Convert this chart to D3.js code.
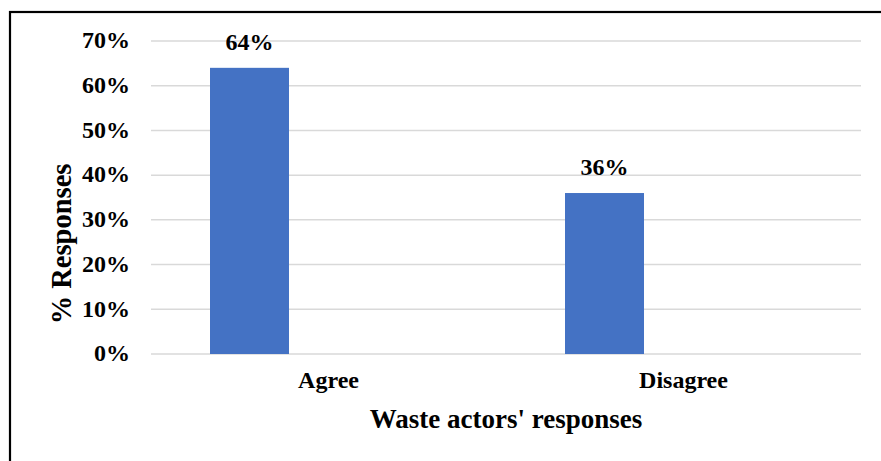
<!DOCTYPE html>
<html>
<head>
<meta charset="utf-8">
<script src="https://cdn.jsdelivr.net/npm/d3@7"></script>
<style>
  body { margin: 0; background: #fff; }
  text { font-family: "Liberation Serif", "Times New Roman", serif; font-weight: bold; fill: #000; }
</style>
</head>
<body>
<svg id="chart" width="881" height="461"></svg>
<script>
// data
const categories = ["Agree", "Disagree"];
const values = [0.64, 0.36];
const yTicks = [0, 0.1, 0.2, 0.3, 0.4, 0.5, 0.6, 0.7];
const xTitle = "Waste actors' responses";
const yTitle = "% Responses";

const svg = d3.select("#chart");
const plot = { left: 151, right: 861, top: 41, bottom: 354 };
const labelSize = 24;

// frame (only top and left edges are visible in the crop)
svg.append("rect")
    .attr("x", 10).attr("y", 12)
    .attr("width", 900).attr("height", 500)
    .attr("fill", "none")
    .attr("stroke", "#000")
    .attr("stroke-width", 2.2);

const y = d3.scaleLinear().domain([0, 0.7]).range([plot.bottom, plot.top]);

// Excel style clustered layout: each category holds a group of three slots,
// only the first slot has a bar
const x = d3.scaleBand()
    .domain(categories)
    .range([plot.left, plot.right])
    .paddingInner(0.3324)
    .paddingOuter(0.1662);
const barW = x.bandwidth() / 3;

// gridlines
svg.append("g").selectAll("line").data(yTicks)
    .join("line")
    .attr("x1", plot.left).attr("x2", plot.right)
    .attr("y1", d => y(d)).attr("y2", d => y(d))
    .attr("stroke", "#d9d9d9")
    .attr("stroke-width", 1.5);

// y axis labels
const yAxis = svg.append("g")
    .attr("transform", "translate(130,0)")
    .call(d3.axisLeft(y).tickValues(yTicks).tickFormat(d3.format(".0%")).tickSize(0).tickPadding(0));
yAxis.select(".domain").remove();
yAxis.selectAll("text")
    .attr("font-size", labelSize)
    .attr("font-family", null)
    .attr("dy", "0.28em");

// bars
svg.append("g").selectAll("rect").data(values)
    .join("rect")
    .attr("x", (d, i) => x(categories[i]))
    .attr("y", d => y(d))
    .attr("width", barW)
    .attr("height", d => y(0) - y(d))
    .attr("fill", "#4472c4");

// value labels
svg.append("g").selectAll("text").data(values)
    .join("text")
    .attr("x", (d, i) => x(categories[i]) + barW / 2)
    .attr("y", d => y(d) - 18)
    .attr("text-anchor", "middle")
    .attr("font-size", labelSize)
    .text(d => d3.format(".0%")(d));

// x axis labels
const xAxis = svg.append("g")
    .attr("transform", "translate(0," + plot.bottom + ")")
    .call(d3.axisBottom(x).tickSize(0).tickPadding(0));
xAxis.select(".domain").remove();
xAxis.selectAll("text")
    .attr("font-size", labelSize)
    .attr("font-family", null)
    .attr("dy", null)
    .attr("y", 34);

// axis titles
svg.append("text")
    .attr("x", 506)
    .attr("y", 428)
    .attr("text-anchor", "middle")
    .attr("font-size", 27)
    .text(xTitle);

svg.append("text")
    .attr("transform", "translate(71,244) rotate(-90)")
    .attr("text-anchor", "middle")
    .attr("font-size", 28.5)
    .text(yTitle);
</script>
</body>
</html>
